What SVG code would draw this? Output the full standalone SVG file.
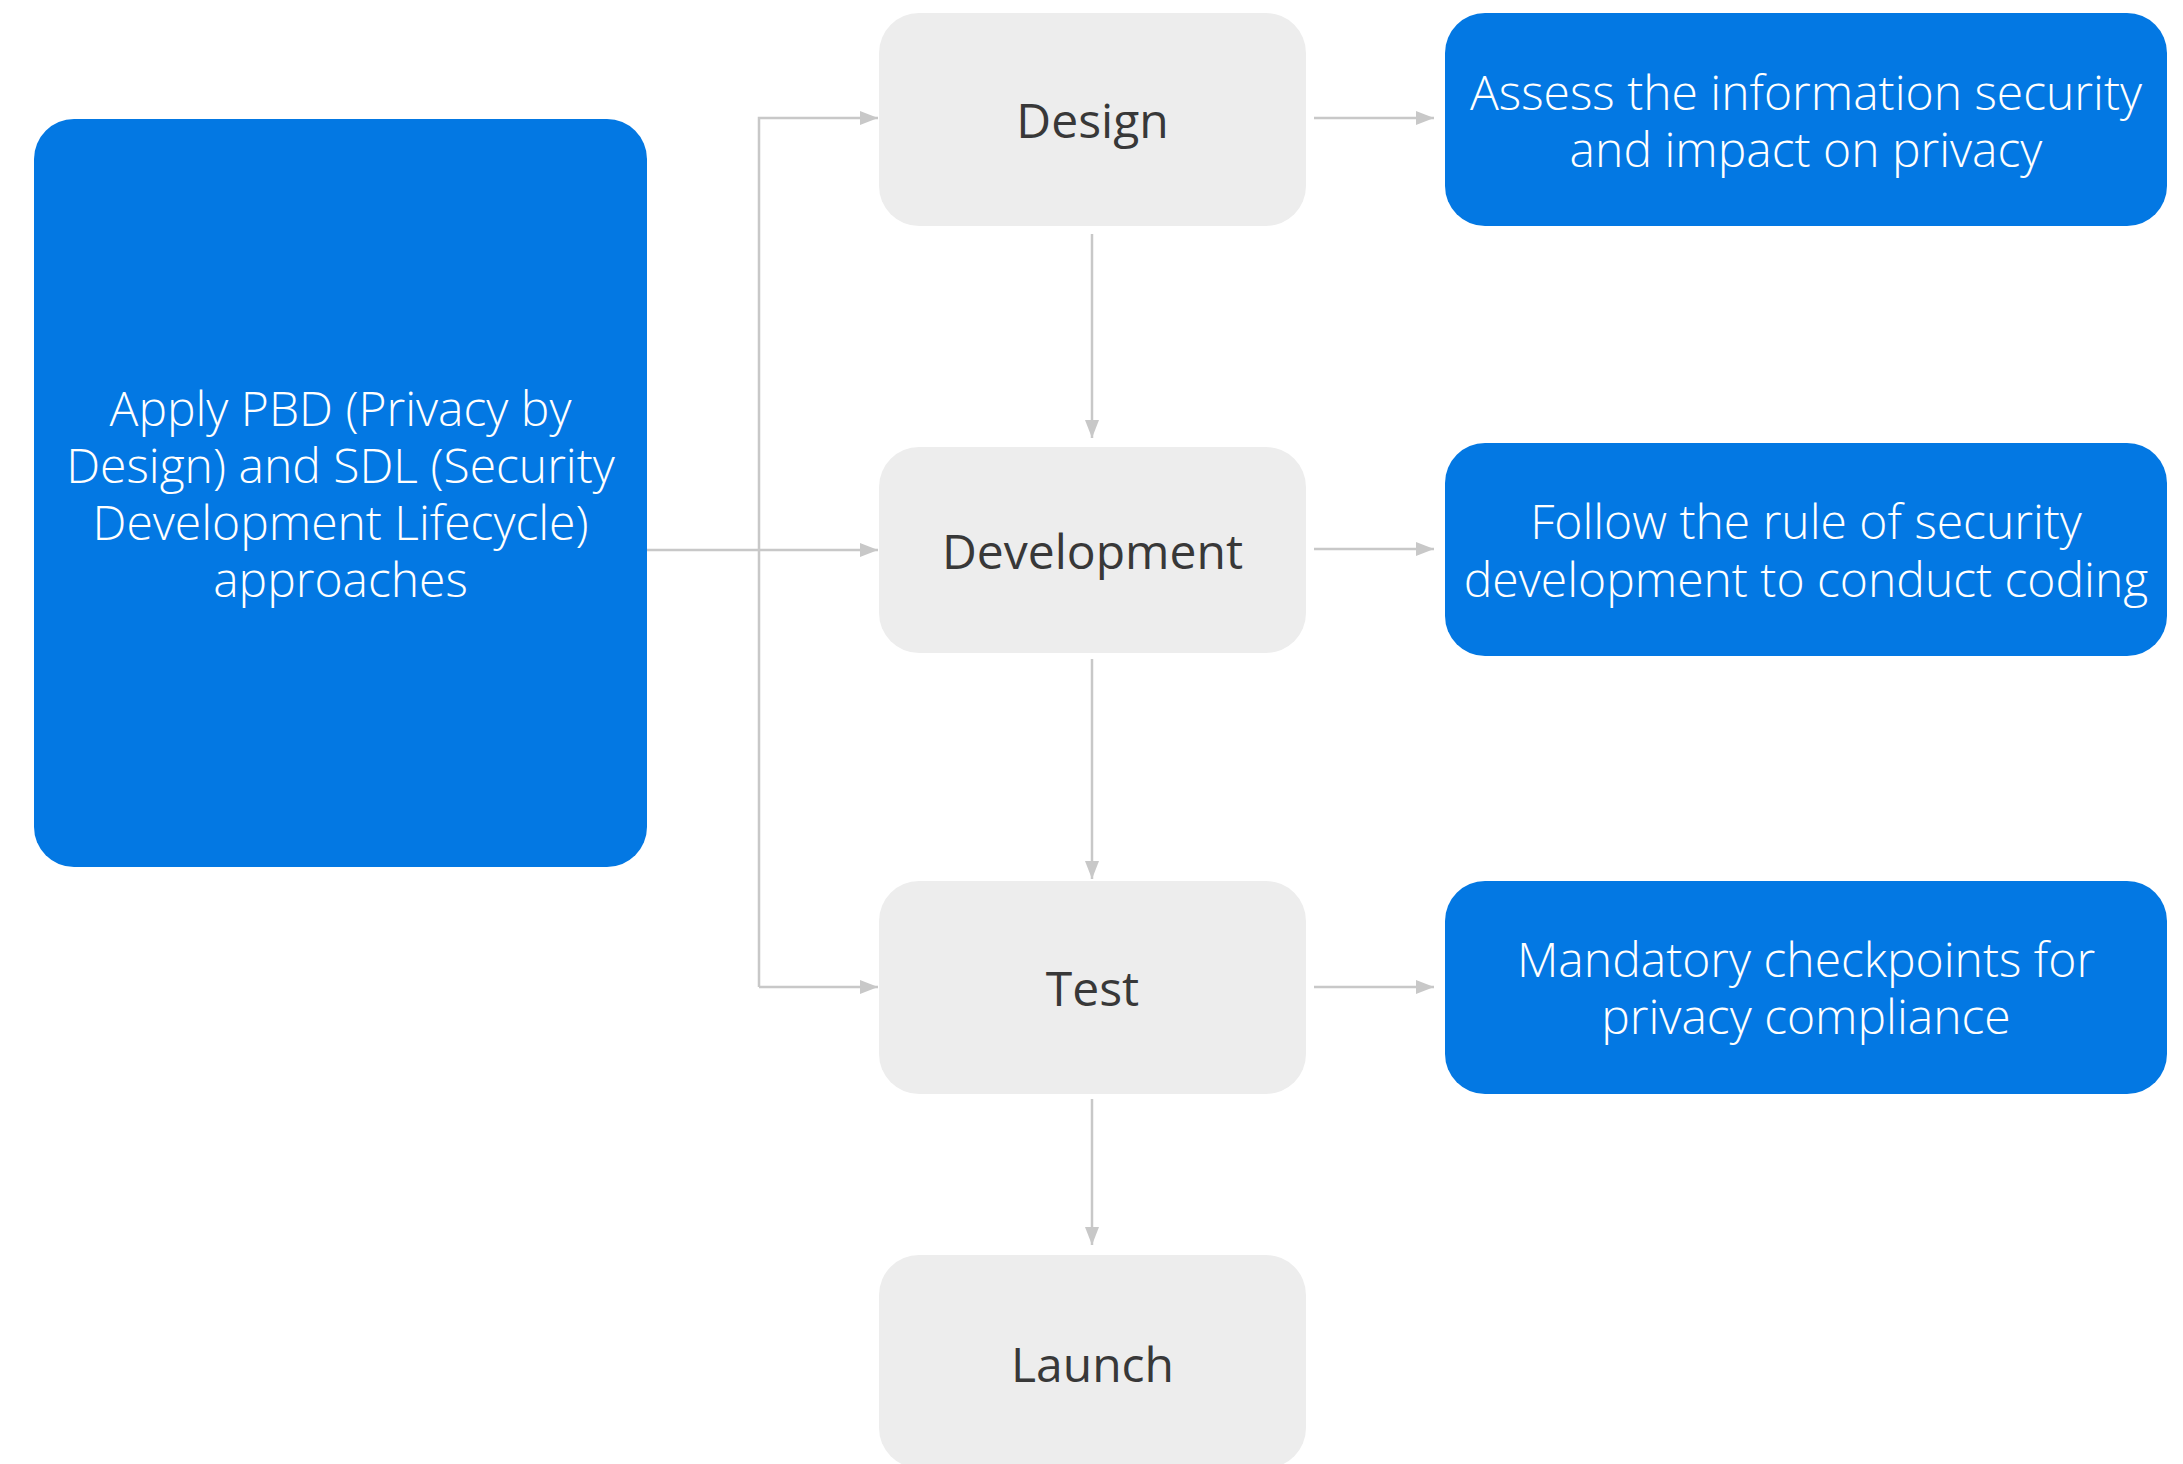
<svg xmlns="http://www.w3.org/2000/svg" width="2183" height="1464" viewBox="0 0 2183 1464">
<style>
.blue{fill:#0378E3}
.gray{fill:#EDEDED}
.wt{font-family:"Open Sans","Noto Sans",sans-serif;font-weight:300;font-size:48px;fill:#FFFFFF;text-anchor:middle}
.gt{font-family:"Open Sans","Noto Sans",sans-serif;font-weight:500;font-size:48px;fill:#383838;text-anchor:middle}
.conn{fill:none;stroke:#C8C8C8;stroke-width:2.5}
</style>
<defs>
<marker id="ah" markerWidth="18" markerHeight="14" refX="18" refY="7" orient="auto" markerUnits="userSpaceOnUse">
<path d="M0,0 L18,7 L0,14 Z" fill="#C8C8C8"/>
</marker>
</defs>
<g id="connectors">
<path class="conn" d="M759,987 L759,118 L878,118" marker-end="url(#ah)"/>
<path class="conn" d="M759,987 L878,987" marker-end="url(#ah)"/>
<path class="conn" d="M647,550 L878,550" marker-end="url(#ah)"/>
<path class="conn" d="M1092,234 L1092,438" marker-end="url(#ah)"/>
<path class="conn" d="M1092,659 L1092,879" marker-end="url(#ah)"/>
<path class="conn" d="M1092,1099 L1092,1245" marker-end="url(#ah)"/>
<path class="conn" d="M1314,118 L1434,118" marker-end="url(#ah)"/>
<path class="conn" d="M1314,549 L1434,549" marker-end="url(#ah)"/>
<path class="conn" d="M1314,987 L1434,987" marker-end="url(#ah)"/>
</g>
<g id="node-approach">
<rect class="blue" x="34" y="119" width="613" height="748" rx="40" ry="40"/>
<text class="wt" x="340.5" y="425.7">Apply PBD (Privacy by</text>
<text class="wt" x="340.5" y="483">Design) and SDL (Security</text>
<text class="wt" x="340.5" y="540">Development Lifecycle)</text>
<text class="wt" x="340.5" y="597">approaches</text>
</g>
<g id="node-design">
<rect class="gray" x="879" y="13" width="427" height="213" rx="40" ry="40"/>
<text class="gt" x="1092.5" y="137.7">Design</text>
</g>
<g id="node-development">
<rect class="gray" x="879" y="447" width="427" height="206" rx="40" ry="40"/>
<text class="gt" x="1092.5" y="569">Development</text>
</g>
<g id="node-test">
<rect class="gray" x="879" y="881" width="427" height="213" rx="40" ry="40"/>
<text class="gt" x="1092.5" y="1005.7">Test</text>
</g>
<g id="node-launch">
<rect class="gray" x="879" y="1255" width="427" height="213" rx="40" ry="40"/>
<text class="gt" x="1092.5" y="1381.7">Launch</text>
</g>
<g id="node-assess">
<rect class="blue" x="1445" y="13" width="722" height="213" rx="40" ry="40"/>
<text class="wt" x="1806" y="110">Assess the information security</text>
<text class="wt" x="1806" y="167">and impact on privacy</text>
</g>
<g id="node-follow">
<rect class="blue" x="1445" y="443" width="722" height="213" rx="40" ry="40"/>
<text class="wt" x="1806" y="539">Follow the rule of security</text>
<text class="wt" x="1806" y="597">development to conduct coding</text>
</g>
<g id="node-mandatory">
<rect class="blue" x="1445" y="881" width="722" height="213" rx="40" ry="40"/>
<text class="wt" x="1806" y="977">Mandatory checkpoints for</text>
<text class="wt" x="1806" y="1034">privacy compliance</text>
</g>
</svg>
